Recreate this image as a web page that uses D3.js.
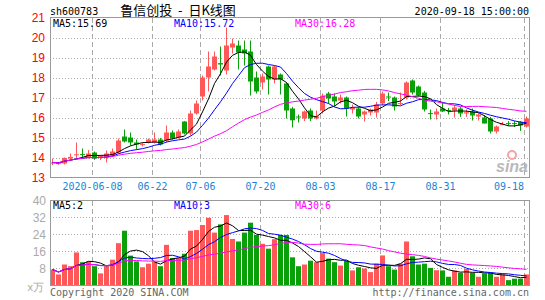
<!DOCTYPE html>
<html>
<head>
<meta charset="utf-8">
<script src="https://cdn.jsdelivr.net/npm/d3@7"></script>
<style>
  body { margin: 0; background: #fff; }
  svg { display: block; }
</style>
</head>
<body>
<svg id="chart" width="545" height="300"></svg>
<script>
// daily bars, 2020-05-28 .. 2020-09-18
const dates = [
  "2020-05-28","2020-05-29","2020-06-01","2020-06-02","2020-06-03","2020-06-04","2020-06-05",
  "2020-06-08","2020-06-09","2020-06-10","2020-06-11","2020-06-12","2020-06-15","2020-06-16","2020-06-17","2020-06-18","2020-06-19",
  "2020-06-22","2020-06-23","2020-06-24","2020-06-29","2020-06-30","2020-07-01","2020-07-02","2020-07-03",
  "2020-07-06","2020-07-07","2020-07-08","2020-07-09","2020-07-10","2020-07-13","2020-07-14","2020-07-15","2020-07-16","2020-07-17",
  "2020-07-20","2020-07-21","2020-07-22","2020-07-23","2020-07-24","2020-07-27","2020-07-28","2020-07-29","2020-07-30","2020-07-31",
  "2020-08-03","2020-08-04","2020-08-05","2020-08-06","2020-08-07","2020-08-10","2020-08-11","2020-08-12","2020-08-13","2020-08-14",
  "2020-08-17","2020-08-18","2020-08-19","2020-08-20","2020-08-21","2020-08-24","2020-08-25","2020-08-26","2020-08-27","2020-08-28",
  "2020-08-31","2020-09-01","2020-09-02","2020-09-03","2020-09-04","2020-09-07","2020-09-08","2020-09-09","2020-09-10","2020-09-11",
  "2020-09-14","2020-09-15","2020-09-16","2020-09-17","2020-09-18"
];
const opens = [
  13.70,13.70,13.70,13.95,14.12,14.17,14.00,14.25,14.00,14.00,
  14.10,14.25,15.05,15.00,14.75,14.63,14.75,14.75,14.90,14.85,
  15.25,15.00,15.80,15.20,16.20,17.05,18.00,18.40,18.72,18.35,
  19.50,19.60,19.40,19.30,18.00,17.75,18.55,17.90,18.15,17.70,
  16.45,16.05,15.95,16.35,15.95,16.35,17.20,17.05,16.85,17.00,
  16.40,16.45,16.15,16.25,16.25,16.70,17.05,17.00,16.68,17.00,
  17.85,17.55,17.25,16.22,16.15,16.45,16.37,16.35,16.45,16.20,
  16.30,16.05,16.00,15.95,15.30,15.63,15.72,15.72,15.78,15.55
];
const highs = [
  13.95,13.78,14.00,14.20,14.75,14.45,14.37,14.30,14.12,14.35,
  14.45,14.95,15.40,15.25,14.90,14.75,14.95,15.25,14.97,15.60,
  15.35,15.40,15.82,16.35,16.85,18.10,19.30,19.30,19.55,20.50,
  19.95,19.85,19.85,19.85,18.30,18.20,18.60,18.60,18.20,17.75,
  16.53,16.15,16.35,16.45,16.35,17.20,17.28,17.20,17.15,17.05,
  16.65,16.52,16.35,16.45,16.78,17.30,17.25,17.05,17.25,17.80,
  17.90,17.60,17.33,16.40,16.45,16.75,16.48,16.62,16.52,16.40,
  16.45,16.22,16.12,16.03,15.60,15.78,15.82,15.82,15.82,16.05
];
const lows = [
  13.62,13.64,13.65,13.92,13.95,13.95,13.95,13.88,13.87,13.75,
  14.05,14.20,14.75,14.60,14.40,14.55,14.70,14.70,14.60,14.75,
  14.90,14.95,15.15,15.10,16.15,16.85,17.30,18.35,18.10,18.15,
  19.20,18.40,18.60,17.10,17.20,17.40,17.15,17.70,17.15,15.95,
  15.50,15.75,15.82,15.82,15.90,16.20,16.70,16.55,16.70,16.05,
  16.20,15.95,15.80,16.10,16.00,16.62,16.82,16.35,16.62,16.90,
  17.15,17.05,16.30,15.90,15.90,16.28,16.15,16.00,16.03,16.03,
  15.85,15.85,15.70,15.20,15.20,15.62,15.58,15.53,15.33,15.50
];
const closes = [
  13.75,13.72,13.98,14.03,14.16,14.14,14.20,13.95,14.08,14.20,
  14.30,14.85,14.80,14.75,14.65,14.67,14.90,14.90,14.65,15.25,
  14.95,15.30,15.20,16.20,16.70,18.00,18.55,19.05,18.65,19.60,
  19.70,19.25,19.20,17.80,17.30,18.05,17.90,18.55,17.90,16.35,
  15.86,16.00,16.30,15.95,16.05,17.10,16.95,16.80,17.00,16.45,
  16.50,16.05,16.30,16.40,16.65,17.20,17.00,16.55,16.72,17.75,
  17.25,17.10,16.40,16.18,16.30,16.30,16.33,16.50,16.20,16.26,
  16.10,16.15,15.70,15.30,15.55,15.67,15.69,15.68,15.60,15.95
];
// volume, x万
const volumes = [
  7.3,5.0,9.7,8.9,15.4,10.8,11.2,8.9,5.5,8.9,
  12.0,19.8,25.7,13.9,11.2,8.4,10.1,10.9,8.9,19.0,
  12.8,12.8,14.8,25.7,26.0,28.4,31.8,24.8,28.7,33.1,
  21.8,20.6,24.8,29.5,23.7,19.5,17.2,21.7,23.7,23.7,
  13.1,8.9,9.7,11.5,10.8,15.1,12.5,10.8,9.2,11.5,
  6.9,8.4,7.8,6.1,10.1,14.0,8.9,7.3,10.1,20.6,
  13.6,9.7,10.1,8.1,7.0,6.9,3.9,6.9,5.8,7.6,
  5.8,3.9,5.5,5.8,3.9,5.0,2.3,3.0,3.0,5.0
];

const tickDates = ["2020-06-08","2020-06-22","2020-07-06","2020-07-20","2020-08-03","2020-08-17","2020-08-31","2020-09-18"];
const tickLabels = ["2020-06-08","06-22","07-06","07-20","08-03","08-17","08-31","09-18"];
const priceTicks = [13,14,15,16,17,18,19,20,21];
const volTicks = [8,16,24,32,40];
const priceMA = ["MA5:15.69","MA10:15.72","MA30:16.28"];
const volMA = ["MA5:2","MA10:3","MA30:6"];
const maPeriods = [5,10,30];
const maColors = ["#000","#0000ff","#ff00ff"];

const RED = "#ff5858", GREEN = "#0aa00a";
const MONO = "'DejaVu Sans Mono', monospace";
const SANS = "'Liberation Sans', Arial, sans-serif";

const svg = d3.select("#chart");
const L = 50, R = 530;

const x = d3.scaleBand().domain(dates).range([L, R]);
const yP = d3.scaleLinear().domain([13, 21]).range([177.5, 17.5]);
const yV = d3.scaleLinear().domain([0, 40]).range([285, 200.5]);
const cx = d => x(d) + 2.5;

const rows = dates.map((d, i) => ({
  d, o: opens[i], h: highs[i], l: lows[i], c: closes[i], v: volumes[i]
}));

function movingAvg(values, n) {
  return values.map((v, i) => {
    const win = values.slice(Math.max(0, i - n + 1), i + 1);
    return d3.mean(win);
  });
}

function drawGrid(g, yScale, levels, top, bottom) {
  g.selectAll("line.h").data(levels).enter().append("line")
    .attr("class", "h")
    .attr("x1", L).attr("x2", R)
    .attr("y1", v => Math.round(yScale(v)) + 0.5)
    .attr("y2", v => Math.round(yScale(v)) + 0.5)
    .attr("stroke", "#aaa").attr("stroke-dasharray", "1,2");
  g.selectAll("line.v").data(tickDates).enter().append("line")
    .attr("class", "v")
    .attr("x1", d => x(d) + 0.5).attr("x2", d => x(d) + 0.5)
    .attr("y1", top).attr("y2", bottom)
    .attr("stroke", "#aaa").attr("stroke-dasharray", "5,3");
}

function drawMA(g, values, yScale) {
  maPeriods.forEach((n, k) => {
    const ma = movingAvg(values, n);
    const line = d3.line().x((v, i) => cx(dates[i])).y(v => yScale(v));
    g.append("path").datum(ma)
      .attr("d", line).attr("fill", "none")
      .attr("stroke", maColors[k]).attr("stroke-width", 1);
  });
}

function maLabels(g, texts, yy) {
  g.selectAll("text").data(texts).enter().append("text")
    .attr("x", (t, k) => [53, 174, 295][k]).attr("y", yy)
    .attr("fill", (t, k) => maColors[k])
    .style("font", "10px " + MONO)
    .text(t => t);
}

// clip paths
const defs = svg.append("defs");
defs.append("clipPath").attr("id", "clipP").append("rect")
  .attr("x", L).attr("y", 18).attr("width", R - L - 1).attr("height", 159);
defs.append("clipPath").attr("id", "clipV").append("rect")
  .attr("x", L).attr("y", 201).attr("width", R - L - 1).attr("height", 84);

// ---- price panel
const gP = svg.append("g");
drawGrid(gP, yP, [14,15,16,17,18,19,20], 18, 177);

// sina logo
const logo = svg.append("g");
logo.append("circle").attr("cx", 512).attr("cy", 155).attr("r", 4)
  .attr("fill", "none").attr("stroke", "#f5a3a3").attr("stroke-width", 2);
logo.append("text").attr("x", 528).attr("y", 172).attr("text-anchor", "end")
  .attr("fill", "#b9b9b9")
  .style("font", "italic bold 16px " + SANS).text("sina");

const candles = gP.append("g").attr("clip-path", "url(#clipP)")
  .selectAll("g").data(rows).enter().append("g");
candles.append("line")
  .attr("x1", d => x(d.d) + 2.5).attr("x2", d => x(d.d) + 2.5)
  .attr("y1", d => yP(d.h)).attr("y2", d => yP(d.l))
  .attr("stroke", d => d.c >= d.o ? RED : GREEN);
candles.append("rect")
  .attr("x", d => x(d.d)).attr("width", 5)
  .attr("y", d => yP(Math.max(d.o, d.c)))
  .attr("height", d => Math.max(1, Math.abs(yP(d.o) - yP(d.c))))
  .attr("fill", d => d.c >= d.o ? RED : GREEN);

drawMA(gP.append("g").attr("clip-path", "url(#clipP)"), closes, yP);

gP.append("rect").attr("x", L + 0.5).attr("y", 17.5)
  .attr("width", R - L - 1).attr("height", 160)
  .attr("fill", "none").attr("stroke", "#999");

gP.selectAll("text.py").data(priceTicks).enter().append("text")
  .attr("class", "py")
  .attr("x", 45).attr("y", p => yP(p) + 4.5).attr("text-anchor", "end")
  .attr("fill", "#ff0000").style("font", "12px " + SANS)
  .text(p => p);

maLabels(gP.append("g"), priceMA, 27);

// date labels
svg.selectAll("text.dx").data(tickDates).enter().append("text")
  .attr("class", "dx")
  .attr("x", (d, k) => k === tickDates.length - 1 ? x(d) : x(d) + 0.5)
  .attr("y", 190)
  .attr("text-anchor", (d, k) => k === tickDates.length - 1 ? "end" : "middle")
  .attr("fill", "#1b84d4").style("font", "10px " + MONO)
  .text((d, k) => tickLabels[k]);

// ---- volume panel
const gV = svg.append("g");
drawGrid(gV, yV, [8,16,24,32], 201, 285);

gV.append("g").attr("clip-path", "url(#clipV)")
  .selectAll("rect").data(rows).enter().append("rect")
  .attr("x", d => x(d.d)).attr("width", 5)
  .attr("y", d => yV(d.v)).attr("height", d => yV(0) - yV(d.v))
  .attr("fill", d => d.c >= d.o ? RED : GREEN);

drawMA(gV.append("g").attr("clip-path", "url(#clipV)"), volumes, yV);

gV.append("rect").attr("x", L + 0.5).attr("y", 200.5)
  .attr("width", R - L - 1).attr("height", 85)
  .attr("fill", "none").attr("stroke", "#999");

gV.selectAll("text.vy").data(volTicks).enter().append("text")
  .attr("class", "vy")
  .attr("x", 46).attr("y", v => yV(v) + 4.5).attr("text-anchor", "end")
  .attr("fill", "#aaa").style("font", "12px " + SANS)
  .text(v => v);

svg.append("text").attr("x", 44).attr("y", 291).attr("text-anchor", "end")
  .attr("fill", "#aaa").style("font", "11px " + SANS).text("x万");

maLabels(gV.append("g"), volMA, 209);

// ---- header / footer
svg.append("text").attr("x", 50).attr("y", 15)
  .style("font", "10px " + MONO).attr("fill", "#000").text("sh600783");
svg.append("text").attr("x", 178).attr("y", 15).attr("text-anchor", "middle")
  .style("font", "13px 'Noto Sans CJK SC', sans-serif")
  .attr("fill", "#000")
  .text("鲁信创投\u00a0\u00a0-\u00a0\u00a0日K线图");
svg.append("text").attr("x", 529).attr("y", 15).attr("text-anchor", "end")
  .style("font", "10px " + MONO).attr("fill", "#000").text("2020-09-18 15:00:00");
svg.append("text").attr("x", 50).attr("y", 296)
  .style("font", "10px " + MONO).attr("fill", "#666").text("Copyright 2020 SINA.COM");
svg.append("text").attr("x", 529).attr("y", 296).attr("text-anchor", "end")
  .style("font", "10px " + MONO).attr("fill", "#666").text("http://finance.sina.com.cn");
</script>
</body>
</html>
